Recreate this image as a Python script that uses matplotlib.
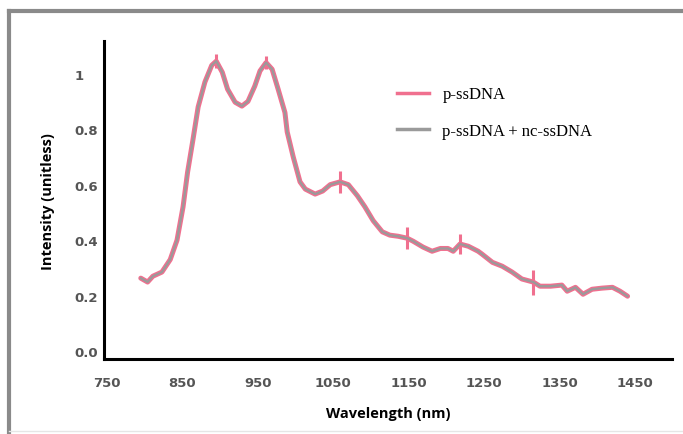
import matplotlib.pyplot as plt
from matplotlib.lines import Line2D

# values
wavelength = [795, 804, 811, 823, 834, 843, 851, 857, 864, 871, 880, 889, 895,
              903, 910, 920, 929, 937, 946, 953, 961, 969, 977, 986, 989, 997,
              1002, 1006, 1013, 1026, 1036, 1046, 1059, 1070, 1082, 1092, 1103,
              1115, 1125, 1136, 1148, 1156, 1169, 1181, 1192, 1202, 1209, 1218,
              1229, 1242, 1247, 1261, 1274, 1287, 1300, 1315, 1324, 1338, 1353,
              1360, 1371, 1381, 1393, 1406, 1420, 1430, 1440]
intensity = [0.263, 0.249, 0.27, 0.285, 0.33, 0.40, 0.52, 0.645, 0.76, 0.88,
             0.97, 1.03, 1.045, 1.005, 0.944, 0.897, 0.883, 0.90, 0.955, 1.01,
             1.04, 1.016, 0.944, 0.86, 0.79, 0.70, 0.65, 0.61, 0.584, 0.566,
             0.577, 0.60, 0.61, 0.60, 0.56, 0.52, 0.47, 0.43, 0.418, 0.414,
             0.407, 0.396, 0.375, 0.36, 0.37, 0.37, 0.36, 0.386, 0.378, 0.36,
             0.35, 0.32, 0.306, 0.285, 0.26, 0.249, 0.234, 0.234, 0.238, 0.216,
             0.23, 0.205, 0.223, 0.227, 0.23, 0.216, 0.198]

# short vertical error marks on the curve
err_wavelength = [895, 961, 1059, 1148, 1218, 1315]
err_intensity = [1.045, 1.04, 0.61, 0.407, 0.386, 0.249]
err_size = [0.025, 0.025, 0.04, 0.04, 0.036, 0.045]

x_ticks = [750, 850, 950, 1050, 1150, 1250, 1350, 1450]
y_ticks = [0.0, 0.2, 0.4, 0.6, 0.8, 1.0]
y_tick_labels = ["0.0", "0.2", "0.4", "0.6", "0.8", "1"]

PINK = "#f0708f"
GREY = "#9a9a9a"

fig = plt.figure(figsize=(6.83, 4.35), dpi=100)
fig.patch.set_facecolor("white")
ax = fig.add_axes([0.152, 0.172, 0.832, 0.731])

ax.plot(wavelength, intensity, color=PINK, lw=3.6, solid_capstyle="round",
        solid_joinstyle="round")
ax.errorbar(err_wavelength, err_intensity, yerr=err_size, fmt="none",
            ecolor=PINK, elinewidth=2.2, capsize=0)
ax.plot(wavelength, intensity, color=GREY, lw=1.6, solid_joinstyle="round")

ax.set_xlim(746, 1499)
ax.set_ylim(-0.029, 1.117)

for side in ["top", "right"]:
    ax.spines[side].set_visible(False)
for side in ["left", "bottom"]:
    ax.spines[side].set_linewidth(2.2)
    ax.spines[side].set_color("black")

ax.set_xticks(x_ticks)
ax.set_xticklabels([str(t) for t in x_ticks], fontsize=9.5, color="#555555",
                   fontweight="bold", family="DejaVu Sans")
ax.set_yticks(y_ticks)
ax.set_yticklabels(y_tick_labels, fontsize=9.5, color="#555555",
                   fontweight="bold", family="DejaVu Sans", ha="left")
ax.tick_params(axis="x", length=0, pad=12)
ax.tick_params(axis="y", length=0, pad=21)

ax.set_xlabel("Wavelength (nm)", fontsize=10.5, fontweight="bold",
              family="Open Sans", labelpad=12)
ax.set_ylabel("Intensity (unitless)", fontsize=10.5, fontweight="bold",
              family="Open Sans", labelpad=14)

handles = [Line2D([], [], color=PINK, lw=2.5),
           Line2D([], [], color=GREY, lw=2.5)]
ax.legend(handles, ["p-ssDNA", "p-ssDNA + nc-ssDNA"], loc="upper left",
          bbox_to_anchor=(0.49, 0.905), frameon=False, labelspacing=1.25,
          handlelength=1.9, handletextpad=0.8,
          prop={"family": "Liberation Serif", "size": 12})

# grey frame round the picture
fig.add_artist(Line2D([9 / 683, 1], [1 - 12 / 435, 1 - 12 / 435],
                      transform=fig.transFigure, color="#8a8a8a", lw=3))
fig.add_artist(Line2D([9 / 683, 9 / 683], [0, 1 - 12 / 435],
                      transform=fig.transFigure, color="#8a8a8a", lw=3))
fig.add_artist(Line2D([9 / 683, 1], [3 / 435, 3 / 435],
                      transform=fig.transFigure, color="#e6e6e6", lw=1))

fig.savefig("out.png", dpi=100)
